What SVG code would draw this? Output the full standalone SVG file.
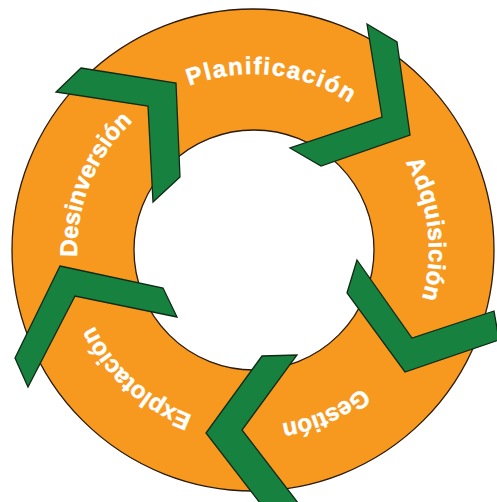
<svg xmlns="http://www.w3.org/2000/svg" xmlns:xlink="http://www.w3.org/1999/xlink" width="497" height="502" viewBox="0 0 497 502">
  <style>
    .ring { fill: #F7981F; stroke: #2a1a0a; stroke-width: 1.3; fill-rule: evenodd; }
    .label { font-family: "Liberation Sans", Arial, sans-serif; font-weight: bold; font-size: 24px; fill: #ffffff; stroke: #ffffff; stroke-width: 0.5; }
    .chevron { fill: #17823F; stroke: #0f2a14; stroke-width: 1.3; stroke-linejoin: miter; }
  </style>
  <defs>
    <!-- clockwise baseline circle, starting at the bottom point -->
    <path id="track" d="M253,426 A176,176 0 1 1 253,74 A176,176 0 1 1 253,426"/>
  </defs>
  <rect width="497" height="502" fill="#ffffff"/>

  <!-- orange cycle ring -->
  <g id="ring">
    <path class="ring" d="M253,9 A241,241 0 1 1 253,491 A241,241 0 1 1 253,9 Z M254,130 A120,120 0 1 0 254,370 A120,120 0 1 0 254,130 Z"/>
  </g>

  <!-- stage labels -->
  <g id="planificacion">
    <text class="label" text-anchor="middle" letter-spacing="1.6"><textPath xlink:href="#track" href="#track" startOffset="572">Planificación</textPath></text>
  </g>
  <g id="adquisicion">
    <text class="label" text-anchor="middle" letter-spacing="0.4"><textPath xlink:href="#track" href="#track" startOffset="808">Adquisición</textPath></text>
  </g>
  <g id="gestion">
    <text class="label" text-anchor="middle" font-size="23"><textPath xlink:href="#track" href="#track" startOffset="1032">Gestión</textPath></text>
  </g>
  <g id="explotacion">
    <text class="label" text-anchor="middle"><textPath xlink:href="#track" href="#track" startOffset="130">Explotación</textPath></text>
  </g>
  <g id="desinversion">
    <text class="label" text-anchor="middle"><textPath xlink:href="#track" href="#track" startOffset="345">Desinversión</textPath></text>
  </g>

  <!-- chevron connectors, pointing clockwise -->
  <g id="connectors">
    <polygon class="chevron" points="81,68 176,83 180,177 153,202 148,106 56,92"/>
    <polygon class="chevron" points="367,24 397,42 410,135 321,166 290,148 382,117"/>
    <polygon class="chevron" points="357,260 412,338 494,311 499,340 405,372 347,293"/>
    <polygon class="chevron" points="262,356 297,355 242,430 305,512 267,512 206,433"/>
    <polygon class="chevron" points="60,266 163,288 177,317 75,296 28,387 15,358"/>
  </g>
</svg>
